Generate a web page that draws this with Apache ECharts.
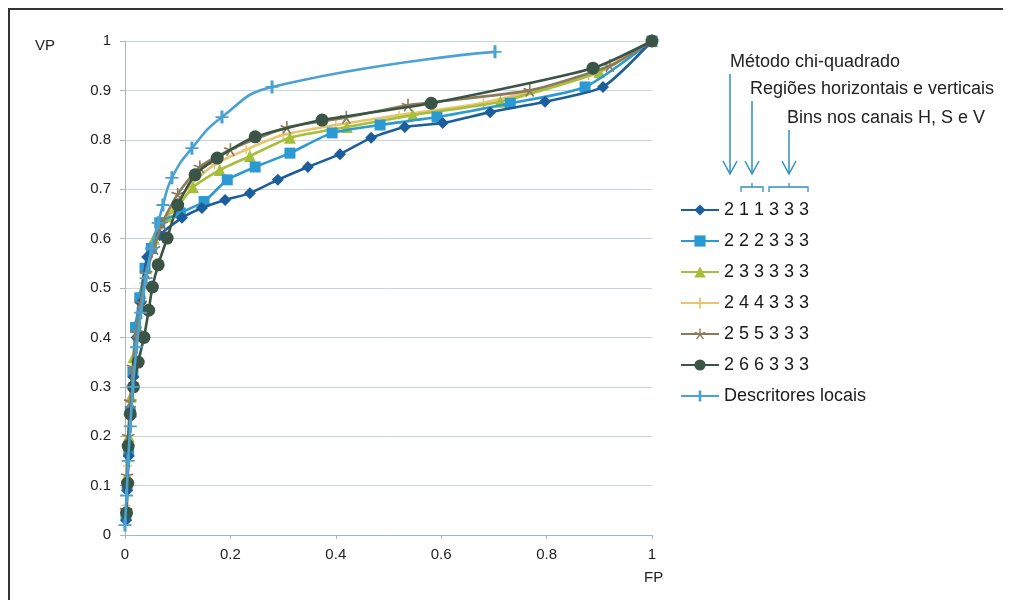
<!DOCTYPE html>
<html>
<head>
<meta charset="utf-8">
<script src="https://cdn.jsdelivr.net/npm/echarts@6/dist/echarts.min.js"></script>
<style>
html,body{margin:0;padding:0;background:#fff;}
#chart{width:1011px;height:600px;}
</style>
</head>
<body>
<div id="chart"></div>
<script>
// ---- data ----
const seriesNames = ['2 1 1 3 3 3','2 2 2 3 3 3','2 3 3 3 3 3','2 4 4 3 3 3','2 5 5 3 3 3','2 6 6 3 3 3','Descritores locais'];
const xTicks = [0, 0.2, 0.4, 0.6, 0.8, 1];
const yTicks = [0, 0.1, 0.2, 0.3, 0.4, 0.5, 0.6, 0.7, 0.8, 0.9, 1];

const s211333 = [[0.002,0.03],[0.004,0.09],[0.007,0.16],[0.011,0.24],[0.016,0.32],[0.022,0.40],[0.030,0.47],[0.042,0.563],[0.066,0.607],[0.108,0.642],[0.146,0.662],[0.190,0.678],[0.237,0.692],[0.290,0.719],[0.347,0.745],[0.408,0.771],[0.467,0.804],[0.531,0.826],[0.603,0.834],[0.693,0.856],[0.797,0.877],[0.907,0.907],[1,1]];
const s222333 = [[0.002,0.04],[0.004,0.10],[0.007,0.17],[0.010,0.25],[0.015,0.33],[0.020,0.42],[0.028,0.48],[0.038,0.54],[0.050,0.58],[0.066,0.632],[0.105,0.652],[0.150,0.675],[0.194,0.719],[0.247,0.745],[0.313,0.773],[0.393,0.814],[0.484,0.830],[0.592,0.846],[0.731,0.874],[0.873,0.907],[1,1]];
const s233333 = [[0.002,0.05],[0.004,0.12],[0.007,0.20],[0.011,0.28],[0.016,0.36],[0.022,0.43],[0.030,0.49],[0.040,0.54],[0.055,0.60],[0.080,0.645],[0.100,0.665],[0.129,0.704],[0.180,0.739],[0.237,0.767],[0.313,0.804],[0.421,0.826],[0.546,0.850],[0.712,0.877],[0.900,0.937],[1,1]];
const s244333 = [[0.002,0.06],[0.005,0.14],[0.008,0.22],[0.012,0.30],[0.018,0.38],[0.025,0.45],[0.035,0.51],[0.048,0.57],[0.065,0.62],[0.090,0.66],[0.125,0.71],[0.170,0.75],[0.230,0.78],[0.300,0.81],[0.400,0.83],[0.520,0.85],[0.680,0.875],[0.880,0.93],[1,1]];
const s255333 = [[0.002,0.05],[0.004,0.12],[0.006,0.20],[0.010,0.27],[0.015,0.34],[0.022,0.41],[0.030,0.47],[0.040,0.53],[0.055,0.58],[0.070,0.63],[0.100,0.69],[0.142,0.745],[0.200,0.78],[0.307,0.825],[0.420,0.845],[0.537,0.870],[0.768,0.900],[0.920,0.95],[1,1]];
const s266333 = [[0.003,0.045],[0.005,0.105],[0.006,0.18],[0.010,0.245],[0.016,0.30],[0.025,0.35],[0.036,0.40],[0.045,0.455],[0.052,0.502],[0.063,0.547],[0.080,0.601],[0.100,0.668],[0.133,0.729],[0.175,0.763],[0.247,0.806],[0.374,0.840],[0.581,0.874],[0.888,0.945],[1,1]];
const sDescritores = [[0.000,0.02],[0.003,0.08],[0.006,0.15],[0.010,0.22],[0.015,0.30],[0.022,0.38],[0.030,0.45],[0.040,0.52],[0.050,0.58],[0.063,0.632],[0.072,0.668],[0.089,0.723],[0.127,0.783],[0.184,0.846],[0.279,0.907],[0.702,0.978]];

const FONT = 'Liberation Sans, Arial, sans-serif';
const plusPath = 'path://M4.2,0 L5.8,0 L5.8,4.2 L10,4.2 L10,5.8 L5.8,5.8 L5.8,10 L4.2,10 L4.2,5.8 L0,5.8 L0,4.2 L4.2,4.2 Z';
const starPath = 'path://M4.4,0 L5.6,0 L5.6,3.9 L9.3,2.7 L9.7,3.8 L6,5 L8.3,8.2 L7.3,8.9 L5,5.7 L2.7,8.9 L1.7,8.2 L4,5 L0.3,3.8 L0.7,2.7 L4.4,3.9 Z';
const vbarPath = 'path://M4.3,0 L5.7,0 L5.7,4.3 L8,4.3 L8,5.7 L5.7,5.7 L5.7,10 L4.3,10 L4.3,5.7 L2,5.7 L2,4.3 L4.3,4.3 Z';

function mk(name, data, color, symbol, size, smooth, z) {
  return {
    name: name, type: 'line', data: data, smooth: smooth, z: z,
    symbol: symbol, symbolSize: size, showSymbol: true,
    lineStyle: {color: color, width: 2.6},
    itemStyle: {color: color, borderWidth: 0},
    emphasis: {disabled: true}
  };
}

const chart = echarts.init(document.getElementById('chart'), null, {renderer: 'canvas'});
chart.setOption({
  animation: false,
  backgroundColor: '#fff',
  grid: {left: 125, right: 359, top: 41, bottom: 65},
  xAxis: {
    type: 'value', min: 0, max: 1, interval: 0.2,
    axisLine: {show: true, lineStyle: {color: '#aab4bc', width: 1}},
    axisTick: {show: true, length: 4, lineStyle: {color: '#aab4bc'}},
    splitLine: {show: false},
    axisLabel: {color: '#222', fontFamily: FONT, fontSize: 15, margin: 12,
      formatter: v => String(+v.toFixed(1))}
  },
  yAxis: {
    type: 'value', min: 0, max: 1, interval: 0.1,
    axisLine: {show: true, lineStyle: {color: '#aab4bc', width: 1}},
    axisTick: {show: true, length: 5, lineStyle: {color: '#aab4bc'}},
    splitLine: {show: true, lineStyle: {color: '#c9d3da', width: 1}},
    axisLabel: {color: '#222', fontFamily: FONT, fontSize: 15, margin: 14,
      formatter: v => String(+v.toFixed(1))}
  },
  legend: {
    orient: 'vertical', left: 675, top: 196,
    itemWidth: 38, itemHeight: 14, itemGap: 13,
    data: seriesNames,
    textStyle: {color: '#1a1a1a', fontFamily: FONT, fontSize: 18},
    selectedMode: false
  },
  series: [
    mk(seriesNames[0], s211333, '#1c5e9c', 'diamond', 12, 0.2, 5),
    mk(seriesNames[1], s222333, '#2b9ad2', 'rect', 11, 0.2, 4),
    mk(seriesNames[2], s233333, '#a6bf3a', 'triangle', 12, 0.2, 3),
    mk(seriesNames[3], s244333, '#e8c46c', plusPath, 9, 0.2, 2),
    mk(seriesNames[4], s255333, '#8a7b5c', starPath, 13, 0.2, 6),
    mk(seriesNames[5], s266333, '#3a5546', 'circle', 13, 0.2, 7),
    mk(seriesNames[6], sDescritores, '#4aa2d2', vbarPath, 13, 0.5, 8)
  ],
  graphic: [
    {type: 'line', shape: {x1: 9, y1: 8, x2: 9, y2: 600}, style: {stroke: '#333', lineWidth: 2}},
    {type: 'line', shape: {x1: 8, y1: 9, x2: 1003, y2: 9}, style: {stroke: '#333', lineWidth: 2}},
    {type: 'text', left: 35, top: 38, style: {text: 'VP', font: '15px ' + FONT, fill: '#222'}},
    {type: 'text', left: 644, top: 570, style: {text: 'FP', font: '15px ' + FONT, fill: '#222'}},
    {type: 'text', left: 730, top: 53, style: {text: 'Método chi-quadrado', font: '18px ' + FONT, fill: '#222'}},
    {type: 'text', left: 750, top: 80, style: {text: 'Regiões horizontais e verticais', font: '18px ' + FONT, fill: '#222'}},
    {type: 'text', left: 787, top: 109, style: {text: 'Bins nos canais H, S e V', font: '18px ' + FONT, fill: '#222'}},
    {type: 'line', shape: {x1: 730, y1: 74, x2: 730, y2: 174}, style: {stroke: '#2d8fc2', lineWidth: 1.5}},
    {type: 'polyline', shape: {points: [[723,161],[730,174],[737,161]]}, style: {stroke: '#2d8fc2', lineWidth: 1.5, fill: null}},
    {type: 'line', shape: {x1: 752, y1: 101, x2: 752, y2: 174}, style: {stroke: '#2d8fc2', lineWidth: 1.5}},
    {type: 'polyline', shape: {points: [[745,161],[752,174],[759,161]]}, style: {stroke: '#2d8fc2', lineWidth: 1.5, fill: null}},
    {type: 'line', shape: {x1: 789, y1: 130, x2: 789, y2: 174}, style: {stroke: '#2d8fc2', lineWidth: 1.5}},
    {type: 'polyline', shape: {points: [[782,161],[789,174],[796,161]]}, style: {stroke: '#2d8fc2', lineWidth: 1.5, fill: null}},
    {type: 'polyline', shape: {points: [[741,192],[741,187],[763,187],[763,192]]}, style: {stroke: '#2d8fc2', lineWidth: 1.3, fill: null}},
    {type: 'line', shape: {x1: 752, y1: 187, x2: 752, y2: 183}, style: {stroke: '#2d8fc2', lineWidth: 1.3}},
    {type: 'polyline', shape: {points: [[769,192],[769,187],[808,187],[808,192]]}, style: {stroke: '#2d8fc2', lineWidth: 1.3, fill: null}},
    {type: 'line', shape: {x1: 789, y1: 187, x2: 789, y2: 183}, style: {stroke: '#2d8fc2', lineWidth: 1.3}}
  ]
});
</script>
</body>
</html>
